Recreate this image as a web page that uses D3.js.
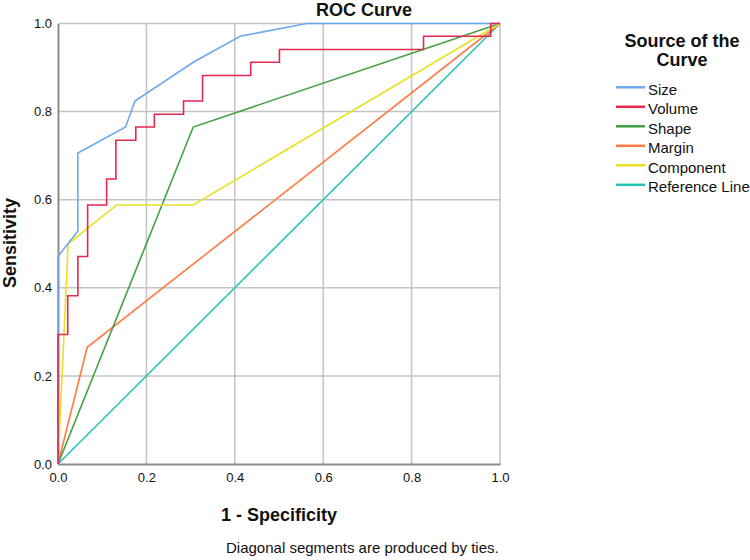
<!DOCTYPE html>
<html>
<head>
<meta charset="utf-8">
<script src="https://cdn.jsdelivr.net/npm/d3@7"></script>
<style>
body { margin: 0; background: #fff; }
text { font-family: Arial, "Liberation Sans", sans-serif; fill: #111; }
</style>
</head>
<body>
<div id="chart"></div>
<script>
//Width and height
var w = 750;
var h = 560;
var plotLeft = 58, plotRight = 500, plotTop = 23.5, plotBottom = 464;

//Dataset (1 - specificity, sensitivity)
var seriesNames = ["Size", "Volume", "Shape", "Margin", "Component", "Reference Line"];
var seriesColors = ["#6ea8ee", "#e6284f", "#43a043", "#ff7b45", "#e8e024", "#26c3b6"];

var sizeX = [0, 0, 0.045, 0.045, 0.153, 0.174, 0.306, 0.412, 0.563, 1];
var sizeY = [0, 0.471, 0.529, 0.706, 0.765, 0.824, 0.912, 0.971, 1, 1];

var volumeX = [0, 0, 0.022, 0.022, 0.045, 0.045, 0.067, 0.067, 0.110, 0.110, 0.131, 0.131, 0.176, 0.176,
  0.218, 0.218, 0.284, 0.284, 0.327, 0.327, 0.436, 0.436, 0.501, 0.501, 0.827, 0.827, 0.979, 0.979, 1];
var volumeY = [0, 0.294, 0.294, 0.382, 0.382, 0.471, 0.471, 0.588, 0.588, 0.647, 0.647, 0.735, 0.735, 0.765,
  0.765, 0.794, 0.794, 0.824, 0.824, 0.882, 0.882, 0.912, 0.912, 0.941, 0.941, 0.971, 0.971, 1, 1];

var shapeX = [0, 0.306, 1];
var shapeY = [0, 0.765, 1];

var marginX = [0, 0.066, 1];
var marginY = [0, 0.265, 1];

var componentX = [0, 0.023, 0.133, 0.306, 1];
var componentY = [0, 0.5, 0.588, 0.588, 1];

var refX = [0, 1];
var refY = [0, 1];

var ticks = [0, 0.2, 0.4, 0.6, 0.8, 1.0];

var allX = [sizeX, volumeX, shapeX, marginX, componentX, refX];
var allY = [sizeY, volumeY, shapeY, marginY, componentY, refY];

//Scales
var xScale = d3.scaleLinear().domain([0, 1]).range([plotLeft, plotRight]);
var yScale = d3.scaleLinear().domain([0, 1]).range([plotBottom, plotTop]);

var svg = d3.select("#chart")
  .append("svg")
  .attr("width", w)
  .attr("height", h);

//Grid
svg.append("g").selectAll("line")
  .data(ticks.slice(1))
  .enter().append("line")
  .attr("x1", function(d) { return xScale(d); })
  .attr("x2", function(d) { return xScale(d); })
  .attr("y1", plotTop).attr("y2", plotBottom)
  .attr("stroke", "#c4c4c4").attr("stroke-width", 1.5);

svg.append("g").selectAll("line")
  .data(ticks.slice(1))
  .enter().append("line")
  .attr("y1", function(d) { return yScale(d); })
  .attr("y2", function(d) { return yScale(d); })
  .attr("x1", plotLeft).attr("x2", plotRight)
  .attr("stroke", "#c4c4c4").attr("stroke-width", 1.5);

//Axes
var xAxis = d3.axisBottom(xScale).tickValues(ticks).tickSize(0).tickPadding(9)
  .tickFormat(d3.format(".1f"));
var yAxis = d3.axisLeft(yScale).tickValues(ticks).tickSize(0).tickPadding(6)
  .tickFormat(d3.format(".1f"));

var gx = svg.append("g")
  .attr("transform", "translate(0," + plotBottom + ")")
  .call(xAxis);
var gy = svg.append("g")
  .attr("transform", "translate(" + plotLeft + ",0)")
  .call(yAxis);

[gx, gy].forEach(function(g) {
  g.select(".domain").attr("stroke", "#8c8c8c").attr("stroke-width", 2);
  g.selectAll("text").style("font-size", "13px")
    .style("font-family", "Arial, 'Liberation Sans', sans-serif").attr("fill", "#111");
});

//Curves
var line = d3.line()
  .x(function(d) { return xScale(d[0]); })
  .y(function(d) { return yScale(d[1]); });

var order = [5, 3, 2, 4, 0, 1];
svg.append("g").selectAll("path")
  .data(order)
  .enter().append("path")
  .attr("d", function(i) { return line(d3.zip(allX[i], allY[i])); })
  .attr("fill", "none")
  .attr("stroke", function(i) { return seriesColors[i]; })
  .attr("stroke-width", 1.6);

//Titles
svg.append("text")
  .attr("x", 364).attr("y", 16)
  .attr("text-anchor", "middle")
  .style("font-size", "18px").style("font-weight", "bold")
  .text("ROC Curve");

svg.append("text")
  .attr("x", 279).attr("y", 521)
  .attr("text-anchor", "middle")
  .style("font-size", "18px").style("font-weight", "bold")
  .text("1 - Specificity");

svg.append("text")
  .attr("transform", "translate(16,243) rotate(-90)")
  .attr("text-anchor", "middle")
  .style("font-size", "18px").style("font-weight", "bold")
  .text("Sensitivity");

svg.append("text")
  .attr("x", 226).attr("y", 553)
  .style("font-size", "15px")
  .text("Diagonal segments are produced by ties.");

//Legend
svg.append("text")
  .attr("x", 682).attr("y", 47)
  .attr("text-anchor", "middle")
  .style("font-size", "18px").style("font-weight", "bold")
  .text("Source of the");
svg.append("text")
  .attr("x", 682).attr("y", 66)
  .attr("text-anchor", "middle")
  .style("font-size", "18px").style("font-weight", "bold")
  .text("Curve");

var legend = svg.append("g").selectAll("g")
  .data(seriesNames)
  .enter().append("g")
  .attr("transform", function(d, i) { return "translate(616," + (87.3 + i * 19.5) + ")"; });

legend.append("line")
  .attr("x1", 0).attr("x2", 29)
  .attr("stroke", function(d, i) { return seriesColors[i]; })
  .attr("stroke-width", 2.5);

legend.append("text")
  .attr("x", 32).attr("y", 7.5)
  .style("font-size", "15px")
  .text(function(d) { return d; });
</script>
</body>
</html>
